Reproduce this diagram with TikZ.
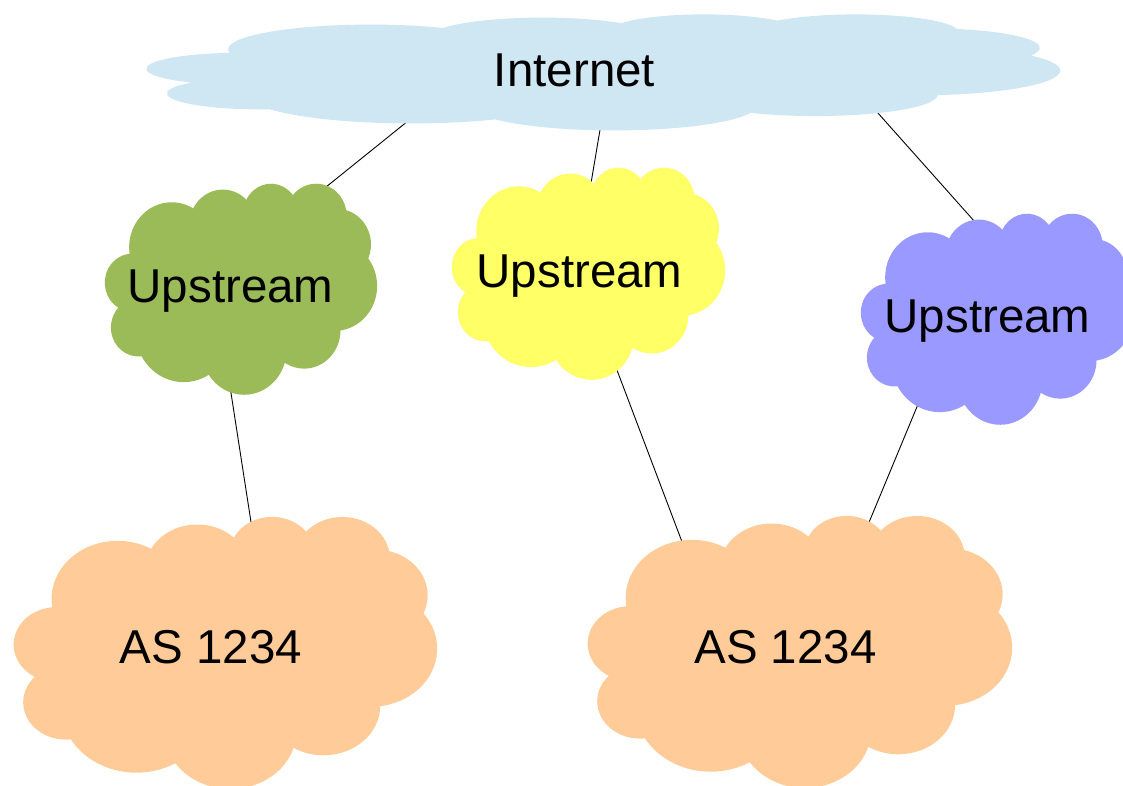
\documentclass[tikz,border=0pt]{standalone}
\usepackage{fontspec}
\setmainfont{Liberation Sans}

% One puff of the cloud outline: an elliptical arc given by its radii and by
% the start and sweep of the polar angle, turned into parametric angles.
\newcommand\ooarc[4]{%
  arc[start angle={atan2(#1*sin(#3),#2*cos(#3))},
      delta angle={mod(atan2(#1*sin(#3+#4),#2*cos(#3+#4))-atan2(#1*sin(#3),#2*cos(#3))+720,360)},
      x radius=#1, y radius=#2]}

% Cloud outline in a 432 x 432 frame
\newcommand\cloudoutline{(39.00,143.70)
  \ooarc{67.53}{91.90}{-190.4875}{123.7805}
  \ooarc{53.33}{72.67}{-144.1024}{89.9452}
  \ooarc{43.65}{59.45}{-145.8079}{99.7230}
  \ooarc{48.57}{65.95}{-130.9861}{117.2417}
  \ooarc{53.33}{72.73}{-78.7089}{109.0269}
  \ooarc{67.75}{92.20}{-46.2673}{130.2690}
  \ooarc{57.85}{78.67}{0.6250}{114.0333}
  \ooarc{67.52}{92.15}{22.4516}{115.1726}
  \ooarc{77.20}{105.43}{66.2426}{75.7110}
  \ooarc{43.60}{59.18}{-274.9421}{146.7356}
  \ooarc{43.45}{59.45}{-246.8285}{152.5189}
  -- cycle}

% \cloudat{colour}{left}{top}{width}{height}
\newcommand\cloudat[5]{%
  \pgfmathsetmacro\cloudsx{#4/432}%
  \pgfmathsetmacro\cloudsy{#5/432}%
  \begin{scope}[shift={(#2,#3)}, x=\cloudsx pt, y=-\cloudsy pt]
    \fill[#1] \cloudoutline;
  \end{scope}}

\definecolor{netblue}{RGB}{207,230,243}
\definecolor{upgreen}{RGB}{155,187,89}
\definecolor{upyellow}{RGB}{255,255,102}
\definecolor{uppurple}{RGB}{153,153,255}
\definecolor{asorange}{RGB}{255,204,153}

\tikzset{
  cloudtext/.style={font=\fontsize{47.5}{57}\selectfont, anchor=base, inner sep=0pt, text=black},
  link/.style={draw=black, line width=0.9pt},
}

\begin{document}
\begin{tikzpicture}[x=1pt, y=-1pt]
  \useasboundingbox (0,0) rectangle (1123,786);

  % connector ends, tucked inside the clouds
  \coordinate (inet-l) at (421,110.5);
  \coordinate (upA-t)  at (313,197.5);
  \coordinate (inet-m) at (602,118);
  \coordinate (upB-t)  at (589,195);
  \coordinate (inet-r) at (869,103);
  \coordinate (upC-t)  at (983,231);
  \coordinate (upA-b)  at (229,380);
  \coordinate (asA-t)  at (253,535);
  \coordinate (upB-b)  at (612,357);
  \coordinate (asB-tl) at (687,555);
  \coordinate (upC-b)  at (926,385);
  \coordinate (asB-tr) at (865,532);

  % links
  \draw[link] (inet-l) -- (upA-t);
  \draw[link] (inet-m) -- (upB-t);
  \draw[link] (inet-r) -- (upC-t);
  \draw[link] (upA-b) -- (asA-t);
  \draw[link] (upB-b) -- (asB-tl);
  \draw[link] (upC-b) -- (asB-tr);

  % clouds
  \cloudat{netblue}{147}{14}{913}{116}
  \cloudat{upgreen}{105}{183}{272}{211}
  \cloudat{upyellow}{452}{167}{273}{212}
  \cloudat{uppurple}{861}{213}{272}{211}
  \cloudat{asorange}{14}{516}{423}{272}
  \cloudat{asorange}{588}{515}{424}{272}

  % labels
  \node[cloudtext] (inet) at (574.5,87)  {Internet};
  \node[cloudtext] (upA)  at (230.5,302) {Upstream};
  \node[cloudtext] (upB)  at (579.5,287) {Upstream};
  \node[cloudtext] (upC)  at (987.5,332) {Upstream};
  \node[cloudtext] (asA)  at (211,663)   {AS 1234};
  \node[cloudtext] (asB)  at (785.5,663) {AS 1234};
\end{tikzpicture}
\end{document}
